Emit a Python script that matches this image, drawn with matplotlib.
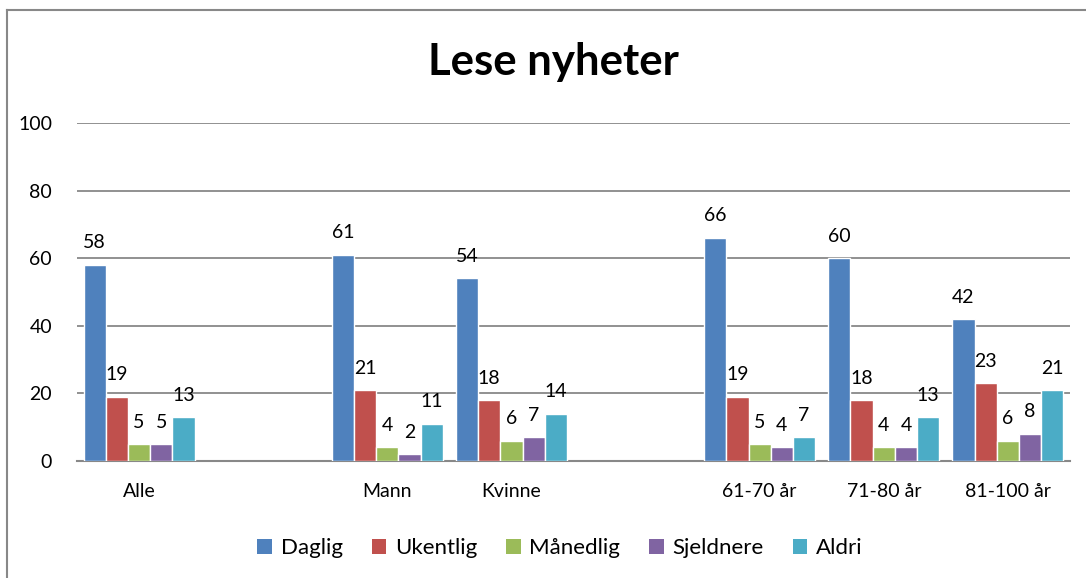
import numpy as np
import matplotlib
matplotlib.use("Agg")
import matplotlib.pyplot as plt
from matplotlib.lines import Line2D
from matplotlib.patches import Patch

categories = ["Alle", "", "Mann", "Kvinne", "", "61-70 år", "71-80 år", "81-100 år"]
series = ["Daglig", "Ukentlig", "Månedlig", "Sjeldnere", "Aldri"]
daglig = [58, None, 61, 54, None, 66, 60, 42]
ukentlig = [19, None, 21, 18, None, 19, 18, 23]
maanedlig = [5, None, 4, 6, None, 5, 4, 6]
sjeldnere = [5, None, 2, 7, None, 4, 4, 8]
aldri = [13, None, 11, 14, None, 7, 13, 21]
colors = ["#4F81BD", "#C0504D", "#9BBB59", "#8064A2", "#4BACC6"]
title = "Lese nyheter"
yticks = [0, 20, 40, 60, 80, 100]

plt.rcParams['font.family'] = ['Lato', 'DejaVu Sans']

fig = plt.figure(figsize=(10.86, 5.78), dpi=100)
ax = fig.add_axes([77/1086, 1-461/578, (1070-77)/1086, (461-123)/578])

data = [daglig, ukentlig, maanedlig, sjeldnere, aldri]
x = np.arange(len(categories))
n = len(series)
group_w = 0.895
bw = group_w / n
for i, (vals, c, name) in enumerate(zip(data, colors, series)):
    v = np.array([np.nan if t is None else t for t in vals], dtype=float)
    pos = x - group_w/2 + bw*(i+0.5)
    ax.bar(pos, v, width=bw, color=c, edgecolor="white", linewidth=1.0, zorder=3, label=name)
    for p, val in zip(pos, v):
        if not np.isnan(val):
            ax.text(p, val + 4, f"{int(val)}", ha="center", va="bottom", fontsize=14, color="black", zorder=4)

ax.set_xlim(-0.5, len(categories) - 0.5)
ax.set_ylim(0, 100)
ax.set_yticks(yticks)
ax.set_xticks(x)
ax.set_xticklabels(categories, fontsize=14)
ax.tick_params(axis="x", length=0, pad=16)
ax.tick_params(axis="y", length=0, pad=18, labelsize=14)
for s in ["top", "right", "left"]:
    ax.spines[s].set_visible(False)
ax.spines["bottom"].set_color("#888888")
ax.spines["bottom"].set_linewidth(1.5)
ax.yaxis.grid(True, color="#888888", linewidth=1.3)
ax.set_axisbelow(True)

fig.text(553/1086, 1-62/578, title, ha="center", va="center", fontsize=31.5, fontweight="bold")

handles = [Patch(facecolor=c, edgecolor="none") for c in colors]
fig.legend(handles, series, loc="center", bbox_to_anchor=(560/1086, 1-548/578), ncol=5,
           frameon=False, fontsize=16, handlelength=0.65, handleheight=0.65,
           handletextpad=0.4, columnspacing=1.3)

# chart border (top and left)
fig.add_artist(Line2D([7/1086, 1], [1-10/578, 1-10/578], color="#888888", linewidth=1.5))
fig.add_artist(Line2D([7/1086, 7/1086], [0, 1-10/578], color="#888888", linewidth=1.5))

fig.savefig("out.png", dpi=100)
